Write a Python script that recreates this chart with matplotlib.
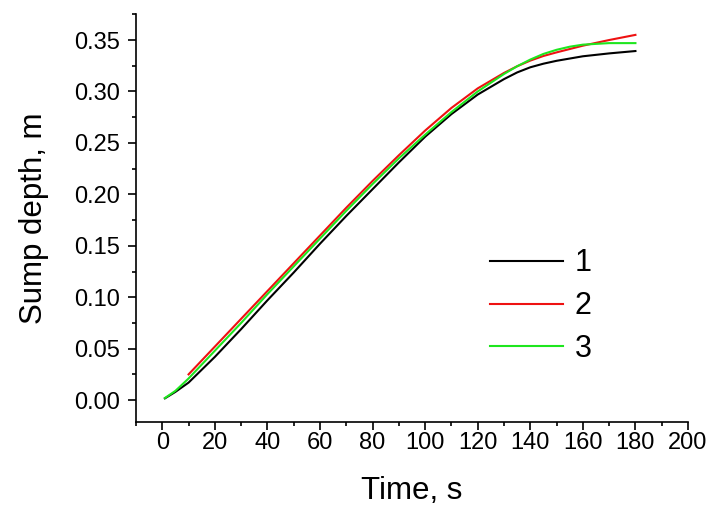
import matplotlib
matplotlib.use("Agg")
import matplotlib.pyplot as plt
from matplotlib.ticker import MultipleLocator

plt.rcParams['font.family'] = ['Liberation Sans', 'DejaVu Sans']

# Series 1 (black)
t1 = [1, 5, 10, 20, 30, 40, 50, 60, 70, 80, 90, 100, 110, 120, 130, 135, 140, 145, 150, 160, 170, 180]
d1 = [0.0017, 0.008, 0.017, 0.042, 0.069, 0.097, 0.124, 0.152, 0.179, 0.205, 0.231, 0.256,
      0.278, 0.297, 0.312, 0.3185, 0.3235, 0.327, 0.3298, 0.3342, 0.337, 0.3393]
# Series 2 (red)
t2 = [10, 20, 30, 40, 50, 60, 70, 80, 90, 100, 110, 120, 130, 135, 140, 145, 150, 160, 170, 180]
d2 = [0.025, 0.052, 0.079, 0.106, 0.133, 0.160, 0.187, 0.213, 0.238, 0.262, 0.284, 0.303,
      0.318, 0.3245, 0.330, 0.3345, 0.338, 0.3445, 0.350, 0.355]
# Series 3 (green)
t3 = [1, 5, 10, 20, 30, 40, 50, 60, 70, 80, 90, 100, 110, 120, 130, 135, 140, 145, 150, 155, 160, 170, 180]
d3 = [0.002, 0.009, 0.021, 0.048, 0.075, 0.103, 0.130, 0.157, 0.184, 0.210, 0.235, 0.258,
      0.280, 0.300, 0.317, 0.3245, 0.331, 0.3365, 0.3405, 0.3435, 0.3455, 0.347, 0.347]

labels = ["1", "2", "3"]
colors = ["#000000", "#ee1111", "#1ee61e"]

fig = plt.figure(figsize=(7.2, 5.15), dpi=100)
ax = fig.add_axes([136/720, 1 - 421.7/515, (688-136)/720, (421.7-14)/515])

for t, d, lab, c in zip([t1, t2, t3], [d1, d2, d3], labels, colors):
    ax.plot(t, d, color=c, lw=1.5, label=lab, solid_joinstyle='round')

ax.set_xlim(-10, 200)
ax.set_ylim(-0.021, 0.3753)
ax.xaxis.set_major_locator(MultipleLocator(20))
ax.xaxis.set_minor_locator(MultipleLocator(10))
ax.yaxis.set_major_locator(MultipleLocator(0.05))
ax.yaxis.set_minor_locator(MultipleLocator(0.025))
ax.yaxis.set_major_formatter(matplotlib.ticker.FormatStrFormatter('%.2f'))

for s in ['top', 'right']:
    ax.spines[s].set_visible(False)
for s in ['left', 'bottom']:
    ax.spines[s].set_linewidth(1.2)

ax.tick_params(axis='both', which='major', direction='out', length=5.8, width=1.2, labelsize=17)
ax.tick_params(axis='both', which='minor', direction='out', length=2.9, width=1.2)
ax.tick_params(axis='x', which='major', pad=1.5)
ax.tick_params(axis='y', which='major', pad=6)

ax.set_xlabel("Time, s", fontsize=22.5, labelpad=16)
ax.set_ylabel("Sump depth, m", fontsize=22.5, labelpad=18)

leg = ax.legend(frameon=False, fontsize=22, handlelength=2.4, handletextpad=0.38,
                labelspacing=0.42, loc='upper left', bbox_to_anchor=(0.641, 0.425),
                borderaxespad=0, borderpad=0)
for line in leg.get_lines():
    line.set_linewidth(1.5)

fig.savefig("out.png", dpi=100)
